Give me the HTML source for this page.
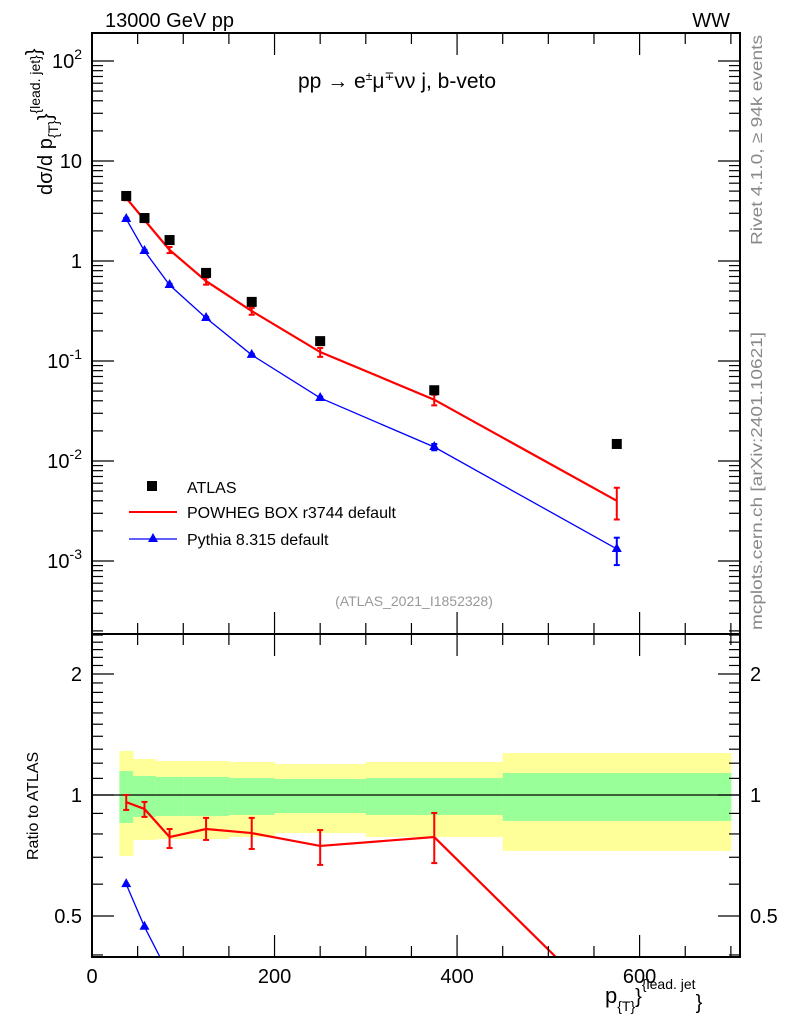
<!DOCTYPE html>
<html><head><meta charset="utf-8"><style>
body{margin:0;background:#fff;overflow:hidden;}
svg{display:block;font-family:"Liberation Sans",sans-serif;}
</style></head><body>
<svg id="chart" width="786" height="1024" viewBox="0 0 786 1024" xmlns="http://www.w3.org/2000/svg">
<text x="105" y="27" font-size="20">13000 GeV pp</text>
<text x="730" y="27" font-size="20" text-anchor="end">WW</text>
<text x="298" y="88" font-size="21">pp  →  e<tspan font-size="12" dy="-8">±</tspan><tspan dy="8">μ</tspan><tspan font-size="12" dy="-8">∓</tspan><tspan dy="8">νν j, b-veto</tspan></text>
<text x="414" y="606" font-size="14" fill="#999" text-anchor="middle">(ATLAS_2021_I1852328)</text>
<text transform="translate(762,245) rotate(-90)" font-size="16" fill="#888" textLength="210" lengthAdjust="spacingAndGlyphs">Rivet 4.1.0, ≥ 94k events</text>
<text transform="translate(762,630) rotate(-90)" font-size="16" fill="#888" textLength="298" lengthAdjust="spacingAndGlyphs">mcplots.cern.ch [arXiv:2401.10621]</text>
<text transform="translate(52,195) rotate(-90)" font-size="20">dσ/d p<tspan font-size="14" dy="6">{T}</tspan><tspan font-size="20" dy="-6">}</tspan><tspan font-size="14" dy="-12">{lead. jet}</tspan><tspan font-size="20" dy="0">}</tspan></text>
<text transform="translate(38,860) rotate(-90)" font-size="16">Ratio to ATLAS</text>
<text x="605" y="1003" font-size="22">p<tspan font-size="14" dy="8">{T}</tspan><tspan font-size="20" dy="-8">}</tspan><tspan font-size="14" dy="-14">{lead. jet</tspan><tspan font-size="20" dy="20">}</tspan></text>
<g id="main"></g>
<g id="ratio"></g>
<g>
<rect x="147" y="481" width="10" height="10" fill="#000"/>
<text x="187" y="493" font-size="16">ATLAS</text>
<line x1="129" y1="512" x2="177" y2="512" stroke="red" stroke-width="2"/>
<text x="187" y="518" font-size="16">POWHEG BOX r3744 default</text>
<line x1="129" y1="539" x2="177" y2="539" stroke="blue" stroke-width="1.3"/>
<path d="M153,533 L158,542 L148,542 Z" fill="blue"/>
<text x="187" y="545" font-size="16">Pythia 8.315 default</text>
</g>
</svg>
<script>
const xPts=[37.5,57.5,85,125,175,250,375,575];
const binEdges=[30,45,70,100,150,200,300,450,700];
const atlas=[4.47,2.69,1.62,0.76,0.39,0.158,0.051,0.0148];
const powheg=[4.27,2.57,1.29,0.63,0.316,0.123,0.041,0.004];
const powhegHi=[4.5,2.7,1.38,0.68,0.34,0.135,0.046,0.0054];
const powhegLo=[4.05,2.45,1.2,0.58,0.29,0.11,0.036,0.0026];
const pythia=[2.63,1.26,0.575,0.269,0.115,0.0427,0.0138,0.00132];
const pythiaHi=[2.7,1.29,0.59,0.276,0.118,0.044,0.0148,0.00171];
const pythiaLo=[2.56,1.23,0.56,0.262,0.112,0.0414,0.0128,0.00091];
const yelHi=[1.287,1.229,1.215,1.215,1.208,1.194,1.208,1.272];
const yelLo=[0.705,0.773,0.777,0.777,0.786,0.804,0.786,0.726];
const grnHi=[1.147,1.115,1.109,1.109,1.102,1.096,1.102,1.134];
const grnLo=[0.852,0.882,0.887,0.887,0.892,0.902,0.892,0.862];
const rPow=[0.96,0.923,0.786,0.823,0.804,0.747,0.786,0.28];
const rPowHi=[1.0,0.961,0.823,0.877,0.877,0.818,0.902,0.36];
const rPowLo=[0.918,0.882,0.738,0.773,0.734,0.67,0.677,0.2];
const rPyt=[0.6,0.47,0.355,0.354,0.295,0.27,0.27,0.089];
const xTicks=[0,200,400,600];
const yTicksMain=[2,1,0,-1,-2,-3];
const rTicks=[2,1,0.5];

const NS='http://www.w3.org/2000/svg';
const L=92,R=740,XMAX=710;
const MT=33,MB=634,RT=634,RB=957;
function X(v){return L+v*(R-L)/XMAX;}
function Y(v){return 261-100*Math.log10(v);}
function YR(v){return 795-121*Math.log2(v);}
function mk(p,tag,a){const e=document.createElementNS(NS,tag);for(const k in a)e.setAttribute(k,a[k]);p.appendChild(e);return e;}
const svg=document.getElementById('chart');
const defs=mk(svg,'defs',{});
const c1=mk(defs,'clipPath',{id:'cm'});mk(c1,'rect',{x:L,y:MT,width:R-L,height:MB-MT});
const c2=mk(defs,'clipPath',{id:'cr'});mk(c2,'rect',{x:L,y:RT,width:R-L,height:RB-RT});
const main=document.getElementById('main'),ratio=document.getElementById('ratio');

const rb=mk(ratio,'g',{'clip-path':'url(#cr)'});
for(let i=0;i<binEdges.length-1;i++){
 const y=mk(rb,'rect',{x:X(binEdges[i]),y:YR(yelHi[i]),width:X(binEdges[i+1])-X(binEdges[i])+0.5,height:YR(yelLo[i])-YR(yelHi[i]),fill:'#ffff99'});
 
 
 const g=mk(rb,'rect',{x:X(binEdges[i]),y:YR(grnHi[i]),width:X(binEdges[i+1])-X(binEdges[i])+0.5,height:YR(grnLo[i])-YR(grnHi[i]),fill:'#99ff99'});
 
 
}
mk(rb,'line',{x1:L,x2:R,y1:YR(1),y2:YR(1),stroke:'#000','stroke-width':1.2});

function series(par,clip,vals,hi,lo,yf,color,w,tri,name){
 const g=mk(par,'g',{'clip-path':clip});
 
 
 mk(g,'polyline',{points:xPts.map((x,i)=>X(x)+','+yf(vals[i])).join(' '),fill:'none',stroke:color,'stroke-width':w});
 xPts.forEach((x,i)=>{
  if(hi){mk(g,'line',{x1:X(x),x2:X(x),y1:yf(hi[i]),y2:yf(lo[i]),stroke:color,'stroke-width':2});
   [hi[i],lo[i]].forEach(v=>mk(g,'line',{x1:X(x)-3,x2:X(x)+3,y1:yf(v),y2:yf(v),stroke:color,'stroke-width':2}));}
  if(tri){const px=X(x),py=yf(vals[i]);mk(g,'path',{d:`M${px},${py-6} L${px+5},${py+3} L${px-5},${py+3} Z`,fill:color});}
 });
}
series(ratio,'url(#cr)',rPow,rPowHi,rPowLo,YR,'red',2.2,false,'ratio-powheg');
series(ratio,'url(#cr)',rPyt,null,null,YR,'blue',1.3,true,'ratio-pythia');
series(main,'url(#cm)',powheg,powhegHi,powhegLo,Y,'red',2.2,false,'series-powheg');
series(main,'url(#cm)',pythia,pythiaHi,pythiaLo,Y,'blue',1.3,true,'series-pythia');
xPts.forEach((x,i)=>{
 const r=mk(main,'rect',{x:X(x)-5,y:Y(atlas[i])-5,width:10,height:10,fill:'#000'});
 
 
});

mk(svg,'rect',{x:L,y:MT,width:R-L,height:MB-MT,fill:'none',stroke:'#000','stroke-width':2});
mk(svg,'rect',{x:L,y:RT,width:R-L,height:RB-RT,fill:'none',stroke:'#000','stroke-width':2});
for(let v=0;v<=XMAX;v+=50){
 const big=v%200===0,len=big?22:11;
 [[MT,1],[MB,-1],[RT,1],[RB,-1]].forEach(([y,d])=>mk(svg,'line',{x1:X(v),x2:X(v),y1:y,y2:y+d*len,stroke:'#000','stroke-width':1.2}));
}
xTicks.forEach(v=>{const t=mk(svg,'text',{x:X(v),y:983,'font-size':20,'text-anchor':'middle'});t.textContent=v;
 
 });
for(let d=-4;d<=2;d++){for(let m=1;m<10;m++){const v=m*Math.pow(10,d),y=Y(v);if(y<MT||y>MB)continue;
 const len=m===1?22:11;
 mk(svg,'line',{x1:L,x2:L+len,y1:y,y2:y,stroke:'#000','stroke-width':1.2});
 mk(svg,'line',{x1:R,x2:R-len,y1:y,y2:y,stroke:'#000','stroke-width':1.2});}}
yTicksMain.forEach(e=>{const t=mk(svg,'text',{x:82,y:Y(Math.pow(10,e))+7,'font-size':20,'text-anchor':'end'});
 
 
 if(e===1)t.textContent='10';else if(e===0)t.textContent='1';
 else{t.textContent='10';const s=mk(t,'tspan',{dy:-9,'font-size':14});s.textContent=e;}});
for(let v=0.4;v<=2.5;v=Math.round((v+0.1)*10)/10){const y=YR(v);if(y<RT||y>RB)continue;
 const big=[0.5,1,2].includes(v),len=big?22:11;
 mk(svg,'line',{x1:L,x2:L+len,y1:y,y2:y,stroke:'#000','stroke-width':1.2});
 mk(svg,'line',{x1:R,x2:R-len,y1:y,y2:y,stroke:'#000','stroke-width':1.2});}
rTicks.forEach(v=>{[[82,'end'],[750,'start']].forEach(([x,a])=>{const t=mk(svg,'text',{x:x,y:YR(v)+7,'font-size':20,'text-anchor':a});t.textContent=v;
 
 });});
</script>
</body></html>
